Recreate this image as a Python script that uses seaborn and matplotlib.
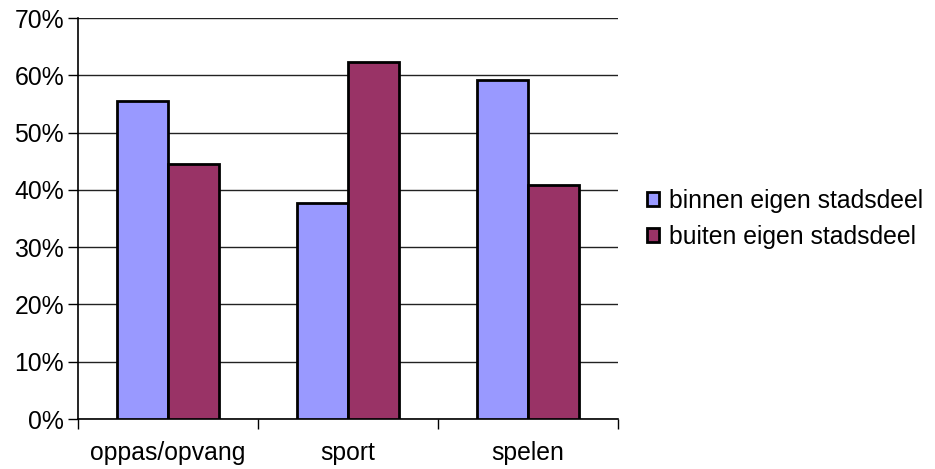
import matplotlib
matplotlib.use("Agg")
import matplotlib.pyplot as plt
import seaborn as sns
import pandas as pd
from matplotlib.ticker import FixedLocator

categories = ["oppas/opvang", "sport", "spelen"]
series_names = ["binnen eigen stadsdeel", "buiten eigen stadsdeel"]
binnen = [55.5, 37.7, 59.1]
buiten = [44.5, 62.3, 40.9]
y_ticks = [0, 10, 20, 30, 40, 50, 60, 70]
y_tick_labels = ["0%", "10%", "20%", "30%", "40%", "50%", "60%", "70%"]
colors = ["#9999FF", "#993366"]

df = pd.DataFrame({
    "categorie": categories * 2,
    "reeks": [series_names[0]] * 3 + [series_names[1]] * 3,
    "aandeel": binnen + buiten,
})

sns.set_style("white")
plt.rcParams["font.family"] = ["Liberation Sans", "DejaVu Sans"]
plt.rcParams["text.color"] = "black"
plt.rcParams["xtick.color"] = "black"
plt.rcParams["ytick.color"] = "black"

FS = 17.8

fig = plt.figure(figsize=(9.35, 4.69), dpi=100)
ax = fig.add_axes([78 / 935, 50 / 469, 540 / 935, 401 / 469])

sns.barplot(data=df, x="categorie", y="aandeel", hue="reeks",
            order=categories, hue_order=series_names, palette=colors,
            width=0.572, edgecolor="black", linewidth=2.0,
            saturation=1, errorbar=None, ax=ax, zorder=3)

ax.set_xlim(-0.5, 2.5)
ax.set_ylim(0, 70)
ax.set_yticks(y_ticks)
ax.set_yticklabels(y_tick_labels, fontsize=FS, color="black")
ax.yaxis.grid(True, color="#222222", linewidth=1.0, zorder=0)
ax.set_axisbelow(True)

# category labels centred under groups, tick marks at group boundaries
ax.set_xticks(range(len(categories)))
ax.set_xticklabels(categories, fontsize=FS, color="black")
ax.tick_params(axis="x", which="major", bottom=True, length=0, pad=16)
ax.xaxis.set_minor_locator(FixedLocator([-0.5, 0.5, 1.5, 2.5]))
ax.tick_params(axis="x", which="minor", bottom=True, length=7, width=1,
               color="black", direction="out")
ax.tick_params(axis="y", which="major", left=True, length=7, width=1,
               color="black", direction="out", pad=3)

ax.set_xlabel("")
ax.set_ylabel("")
for side in ["top", "right"]:
    ax.spines[side].set_visible(False)
for side in ["left", "bottom"]:
    ax.spines[side].set_color("black")
    ax.spines[side].set_linewidth(1.2)

handles, labels = ax.get_legend_handles_labels()
leg = ax.legend(handles, labels, loc="center left",
                bbox_to_anchor=(647 / 935, 250 / 469),
                bbox_transform=fig.transFigure, frameon=False, fontsize=FS,
                handlelength=0.5, handleheight=0.5, handletextpad=0.4,
                labelspacing=0.5, borderaxespad=0, borderpad=0)
for t in leg.get_texts():
    t.set_color("black")

fig.savefig("out.png", dpi=100)
